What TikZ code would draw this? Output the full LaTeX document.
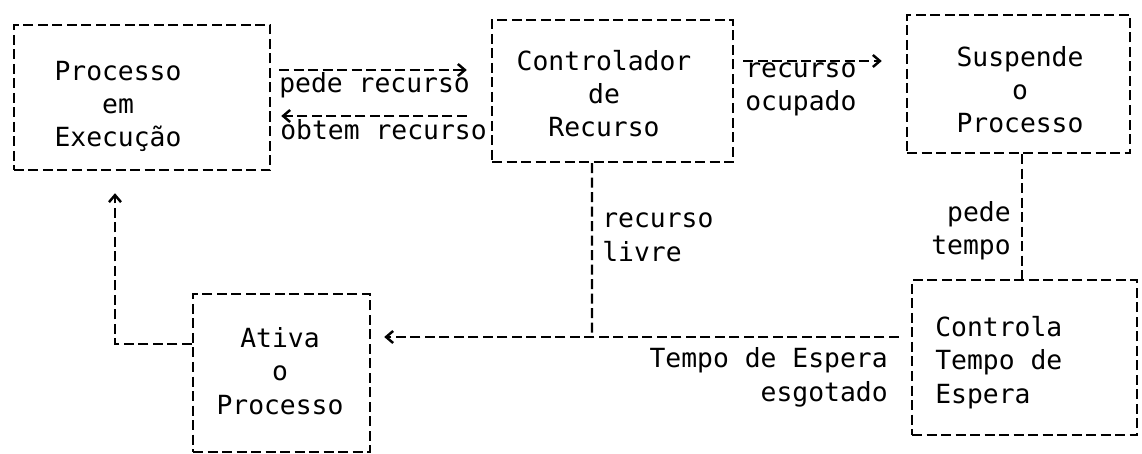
\documentclass[tikz,border=0pt]{standalone}
\usepackage{fontspec}
\setmainfont{DejaVu Sans Mono}
\usepackage{tikz}
\usetikzlibrary{arrows.meta}

\begin{document}
\begin{tikzpicture}[x=0.2mm, y=-0.2mm, >={Straight Barb[length=1.4mm, width=2.4mm]},
  procbox/.style={draw, line width=1.4pt, dash pattern=on 2mm off 0.9mm, inner sep=0pt},
  boxtext/.style={align=center, inner sep=0pt, font=\fontsize{15}{19}\selectfont},
  flowlabel/.style={inner sep=0pt, font=\fontsize{15}{19}\selectfont},
  flow/.style={line width=1.4pt, dash pattern=on 2mm off 0.9mm}]
\useasboundingbox (0,0) rectangle (1142,454);

\node[procbox, minimum width=51.2mm, minimum height=29mm] at (142, 97.5) (exec) {};
\node[procbox, minimum width=48.2mm, minimum height=28.4mm] at (612.5, 91) (ctrl) {};
\node[procbox, minimum width=44.6mm, minimum height=27.6mm] at (1018.5, 84) (susp) {};
\node[procbox, minimum width=35.4mm, minimum height=31.6mm] at (281.5, 373) (ativa) {};
\node[procbox, minimum width=45mm, minimum height=31mm] at (1024.5, 357.5) (tempo) {};

\node[boxtext, anchor=base] at (118, 147) (exectext) {Processo\\em\\Execução};
\node[boxtext, anchor=base] at (604, 137) (ctrltext) {Controlador\\de\\Recurso};
\node[boxtext, anchor=base] at (1020, 133) (susptext) {Suspende\\o\\Processo};
\node[boxtext, anchor=base] at (280, 414) (ativatext) {Ativa\\o\\Processo};
\node[boxtext, align=left, anchor=base west] at (935, 403) (tempotext) {Controla\\Tempo de\\Espera};

\node[flowlabel, anchor=base west] at (279, 93) (pederec) {pede recurso};
\node[flowlabel, anchor=base west] at (280, 140) (obtemrec) {obtem recurso};
\node[flowlabel, align=left, anchor=base west] at (745, 111) (ocupado) {recurso\\ocupado};
\node[flowlabel, align=left, anchor=base west] at (602, 261) (livre) {recurso\\livre};
\node[flowlabel, align=right, anchor=base east] at (1011, 255) (pedetempo) {pede\\tempo};
\node[flowlabel, align=right, anchor=base east] at (888, 401) (esgotado) {Tempo de Espera\\esgotado};

\coordinate (meet) at (592, 337);

\draw[flow, ->, shorten <=1.6mm, shorten >=4.8mm] ([yshift=5.5mm]exec.east) -- ([yshift=5.5mm]exec.east -| ctrl.west);
\draw[flow, ->, shorten <=4.8mm, shorten >=2mm] ([yshift=-3.7mm]exec.east -| ctrl.west) -- ([yshift=-3.7mm]exec.east);
\draw[flow, ->, shorten <=1.8mm, shorten >=4.8mm] ([yshift=6mm]ctrl.east) -- ([yshift=6mm]ctrl.east -| susp.west);
\draw[flow] ([xshift=0.7mm]susp.south) -- ([xshift=0.7mm]susp.south |- tempo.north);
\draw[flow] ([xshift=-4.1mm]ctrl.south) -- (meet);
\draw[flow, ->, shorten <=2.4mm, shorten >=2.6mm] ([yshift=4.1mm]tempo.west) -- ([yshift=4.1mm]tempo.west -| ativa.east);
\draw[flow, ->, shorten >=4.4mm] ([yshift=5.8mm]ativa.west) -| ([xshift=-5.4mm]exec.south);

\end{tikzpicture}
\end{document}
